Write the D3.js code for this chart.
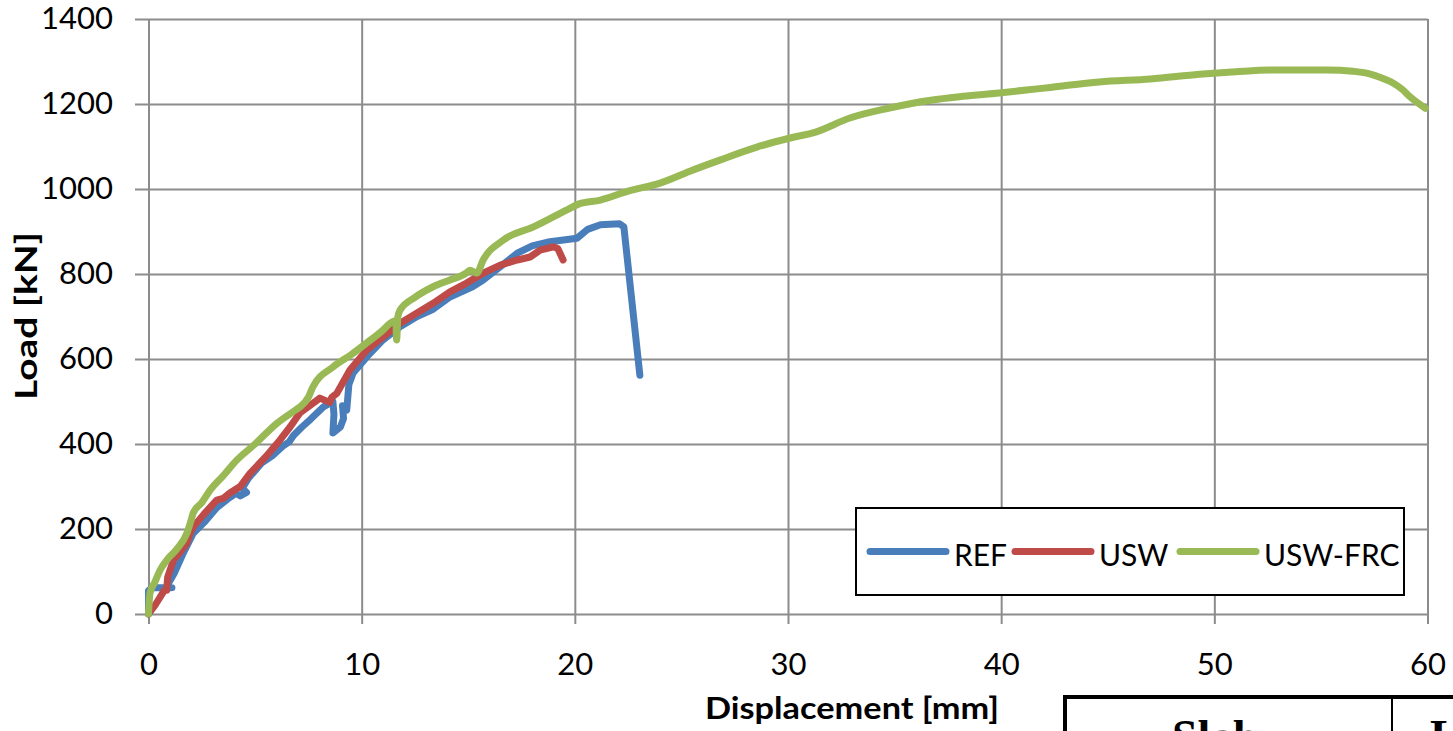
<!DOCTYPE html>
<html>
<head>
<meta charset="utf-8">
<script src="https://cdn.jsdelivr.net/npm/d3@7"></script>
<style>
  html, body { margin: 0; padding: 0; background: #fff; }
  svg { display: block; }
  text { font-family: Lato, "Open Sans", sans-serif; fill: #000; }
</style>
</head>
<body>
<svg id="chart" width="1453" height="731"></svg>
<script>
// ---- data (displacement [mm], load [kN]) ----
const xTicks = [0, 10, 20, 30, 40, 50, 60];
const yTicks = [0, 200, 400, 600, 800, 1000, 1200, 1400];
const seriesNames = ["REF", "USW", "USW-FRC"];

const refData = [
  [0,0],[0,55],[0.2,62],[1.1,62],[0.8,60],[1.2,95],[1.6,140],[2.1,190],[2.6,215],[3.2,250],
  [3.7,270],[4.1,284],[4.3,278],[4.6,286],[4.4,296],[4.7,320],[5.3,355],[5.8,372],[6.3,395],
  [6.6,405],[6.8,420],[7.2,440],[7.6,458],[8.2,487],[8.65,500],[8.7,470],[8.65,426],[9.0,440],
  [9.15,460],[9.1,490],[9.3,480],[9.4,540],[9.6,567],[10.24,605],[11.0,645],[11.8,676],
  [12.6,700],[13.35,717],[14.14,746],[15.2,770],[15.7,786],[16.5,817],[17.3,849],[18.0,866],
  [18.83,876],[20.1,884],[20.6,905],[21.2,916],[22.1,918],[22.3,911],[23.05,562]
];
const uswData = [
  [0,0],[0.3,20],[0.75,56],[0.85,56],[0.9,87],[1.17,127],[1.4,140],[1.7,160],[1.8,167],
  [1.95,190],[2.1,205],[2.6,235],[3.2,268],[3.5,272],[3.8,284],[4.3,300],[4.76,331],
  [5.5,370],[6.1,405],[6.64,440],[7.1,473],[8.04,508],[8.5,498],[8.6,510],[8.83,519],
  [9.45,574],[10.24,621],[11.8,684],[13.35,731],[14.14,758],[14.9,778],[15.7,802],
  [16.5,821],[17.3,833],[17.9,840],[18.37,856],[18.99,864],[19.2,860],[19.45,833]
];
const uswFrcData = [
  [0,0],[0.07,49],[0.3,75],[0.54,103],[0.86,127],[1.3,151],[1.8,190],[2.04,228],[2.09,237],
  [2.5,262],[2.9,292],[3.5,325],[4.14,362],[5.0,400],[6.03,449],[6.9,480],[7.1,487],
  [7.5,510],[7.71,534],[8.65,581],[9.5,610],[10.24,638],[11.0,668],[11.33,684],[11.6,690],
  [11.64,645],[11.7,700],[11.8,715],[12.5,745],[13.35,770],[14.14,786],[14.9,802],
  [15.08,809],[15.4,802],[15.7,833],[16.65,880],[18.06,911],[19.63,951],[20.2,965],
  [21.2,974],[22.5,995],[24.0,1014],[25.4,1042],[26.8,1068],[28.5,1098],[30.1,1120],
  [31.3,1134],[32.9,1167],[34.7,1190],[36.7,1209],[38.2,1218],[39.9,1226],[42.3,1239],
  [44.6,1252],[47.0,1259],[49.3,1270],[51.0,1276],[52.6,1280],[55.3,1280],[56.5,1277],
  [57.2,1272],[58.0,1258],[58.4,1249],[58.8,1235],[59.2,1216],[59.9,1190]
];
const seriesData = [refData, uswData, uswFrcData];
const seriesColors = ["#4a7ebb", "#be4b48", "#98b954"];

// ---- layout ----
const svg = d3.select("#chart");
const x = d3.scaleLinear().domain([0, 60]).range([148.5, 1427.5]);
const y = d3.scaleLinear().domain([0, 1400]).range([614, 19]);
const gridColor = "#8c8c8c";

// y axis with horizontal gridlines
const yAxis = svg.append("g")
  .attr("transform", "translate(135,0)")
  .call(d3.axisLeft(y).tickValues(yTicks).tickSize(-(1427.5 - 135)).tickPadding(22).tickFormat(d3.format("d")));
yAxis.select(".domain").remove();
yAxis.selectAll("line").attr("stroke", gridColor).attr("stroke-width", 2);
yAxis.selectAll("text").style("font-size", "31px").attr("fill", "#000");

// x axis with vertical gridlines
const xAxis = svg.append("g")
  .attr("transform", "translate(0,624)")
  .call(d3.axisBottom(x).tickValues(xTicks).tickSize(-(624 - 19)).tickPadding(29).tickFormat(d3.format("d")));
xAxis.select(".domain").remove();
xAxis.selectAll("line").attr("stroke", gridColor).attr("stroke-width", 2);
xAxis.selectAll("text").style("font-size", "31px").attr("fill", "#000");

// series
const lineStraight = d3.line().x(d => x(d[0])).y(d => y(d[1]));
const lineSmooth = d3.line().x(d => x(d[0])).y(d => y(d[1])).curve(d3.curveMonotoneX);
svg.append("g").selectAll("path")
  .data(seriesData)
  .join("path")
  .attr("d", (d, i) => i === 2 ? lineSmooth(d) : lineStraight(d))
  .attr("fill", "none")
  .attr("stroke", (d, i) => seriesColors[i])
  .attr("stroke-width", 7)
  .attr("stroke-linejoin", "round")
  .attr("stroke-linecap", "round");

// axis titles
svg.append("text")
  .attr("transform", "translate(37,316) rotate(-90)")
  .attr("text-anchor", "middle")
  .attr("textLength", 168).attr("lengthAdjust", "spacingAndGlyphs")
  .style("font-size", "30px").style("font-weight", "bold")
  .text("Load [kN]");
svg.append("text")
  .attr("x", 852).attr("y", 719)
  .attr("text-anchor", "middle")
  .attr("textLength", 294).attr("lengthAdjust", "spacingAndGlyphs")
  .style("font-size", "30px").style("font-weight", "bold")
  .text("Displacement [mm]");

// legend
const legend = svg.append("g");
legend.append("rect")
  .attr("x", 856).attr("y", 508).attr("width", 548).attr("height", 87)
  .attr("fill", "#fff").attr("stroke", "#000").attr("stroke-width", 2);
const legendX = [870, 1015, 1180];
const items = legend.selectAll("g.item").data(seriesNames).join("g").attr("class", "item");
items.append("line")
  .attr("x1", (d, i) => legendX[i]).attr("x2", (d, i) => legendX[i] + 76)
  .attr("y1", 551.5).attr("y2", 551.5)
  .attr("stroke", (d, i) => seriesColors[i]).attr("stroke-width", 7).attr("stroke-linecap", "round");
items.append("text")
  .attr("x", (d, i) => legendX[i] + 84).attr("y", 566)
  .style("font-size", "30px")
  .text(d => d);

// clipped table fragment below the chart
const table = svg.append("g");
table.append("line").attr("x1", 1063).attr("x2", 1453).attr("y1", 697).attr("y2", 697)
  .attr("stroke", "#000").attr("stroke-width", 4);
table.append("line").attr("x1", 1065).attr("x2", 1065).attr("y1", 695).attr("y2", 731)
  .attr("stroke", "#000").attr("stroke-width", 4);
table.append("line").attr("x1", 1392).attr("x2", 1392).attr("y1", 697).attr("y2", 731)
  .attr("stroke", "#000").attr("stroke-width", 2);
table.append("text").attr("x", 1172).attr("y", 752)
  .style("font-family", "'Liberation Serif', serif").style("font-size", "46px").style("font-weight", "bold")
  .text("Slab");
table.append("text").attr("x", 1430).attr("y", 752)
  .style("font-family", "'Liberation Serif', serif").style("font-size", "46px").style("font-weight", "bold")
  .text("L");
</script>
</body>
</html>
